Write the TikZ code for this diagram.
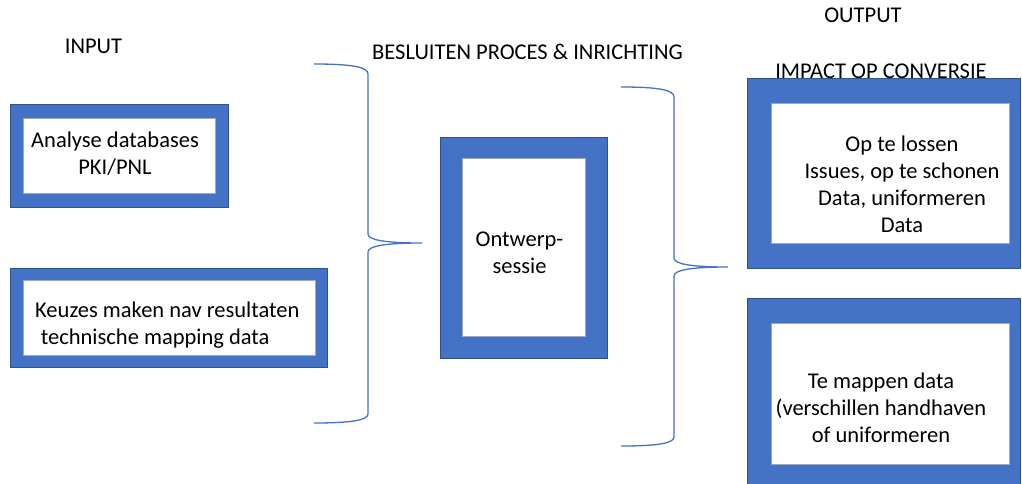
\documentclass[tikz,border=0pt]{standalone}
\usepackage{fontspec}
\setmainfont{Carlito}
\usepackage{xcolor}
\usepackage{tikz}
\usetikzlibrary{positioning}

\definecolor{kaderblauw}{HTML}{4472C4}
\definecolor{kaderrand}{HTML}{2F528F}

\tikzset{
    kader/.style={draw=kaderrand, line width=0.8pt, fill=kaderblauw, inner sep=0pt},
    vlak/.style={draw=kaderrand!50, line width=0.4pt, fill=white, inner sep=0pt},
    tekst/.style={font=\fontsize{22.5}{27}\selectfont, align=center, inner sep=0pt},
    accolade/.style={draw=kaderblauw, line width=1.3pt},
}

\begin{document}
\begin{tikzpicture}[x=1pt, y=-1pt]
    \useasboundingbox (0,0) rectangle (1022,483);

    % kopjes
    \node[tekst] (input) at (93.5,46) {INPUT};
    \node[tekst] (besluiten) at (527.5,52) {BESLUITEN PROCES \& INRICHTING};
    \node[tekst] (output) at (863,15) {OUTPUT};
    \node[tekst] (impact) at (881,71) {IMPACT OP CONVERSIE};

    % input
    \node[kader, minimum width=218pt, minimum height=103pt] (analyse) at (119,155.5) {};
    \node[vlak, minimum width=192pt, minimum height=75pt] (analyse-in) at (analyse) {};
    \node[tekst] (analyse-txt) at (115,154) {Analyse databases\\PKI/PNL};

    \node[kader, minimum width=317pt, minimum height=99pt] (keuzes) at (168.5,317.5) {};
    \node[vlak, minimum width=292pt, minimum height=75pt] (keuzes-in) at (169,317.5) {};
    \node[tekst, align=left, anchor=west] (keuzes-txt) at (35,325)
        {Keuzes maken nav resultaten\\\hspace*{0.25em}technische mapping data};

    % accolade naar de sessie
    \draw[accolade] (314,64) .. controls (352,64) and (368,67) .. (368,74) -- (368,234)
        .. controls (368,240) and (385,243) .. (422,243)
        .. controls (385,243) and (368,246) .. (368,252) -- (368,414)
        .. controls (368,420) and (352,423) .. (314,423);

    % besluiten
    \node[kader, minimum width=167pt, minimum height=221pt] (sessie) at (523.5,247.5) {};
    \node[vlak, minimum width=123pt, minimum height=178pt] (sessie-in) at (523.5,247) {};
    \node[tekst] (sessie-txt) at (519.5,252.5) {Ontwerp-\\sessie};

    % accolade naar de output
    \draw[accolade] (621,87) .. controls (659,87) and (674,90) .. (674,97) -- (674,258)
        .. controls (674,264) and (691,267) .. (728,267)
        .. controls (691,267) and (674,270) .. (674,276) -- (674,437)
        .. controls (674,443) and (659,446) .. (621,446);

    % output
    \node[kader, minimum width=273pt, minimum height=190pt] (issues) at (883.5,173) {};
    \node[vlak, minimum width=238pt, minimum height=140pt] (issues-in) at (890,173) {};
    \node[tekst] (issues-txt) at (902,184) {Op te lossen\\Issues, op te schonen\\Data, uniformeren\\Data};

    \node[kader, minimum width=273pt, minimum height=190pt] (mappen) at (883.5,393) {};
    \node[vlak, minimum width=238pt, minimum height=141pt] (mappen-in) at (890,393.5) {};
    \node[tekst] (mappen-txt) at (881,408) {Te mappen data\\(verschillen handhaven\\of uniformeren};
\end{tikzpicture}
\end{document}
